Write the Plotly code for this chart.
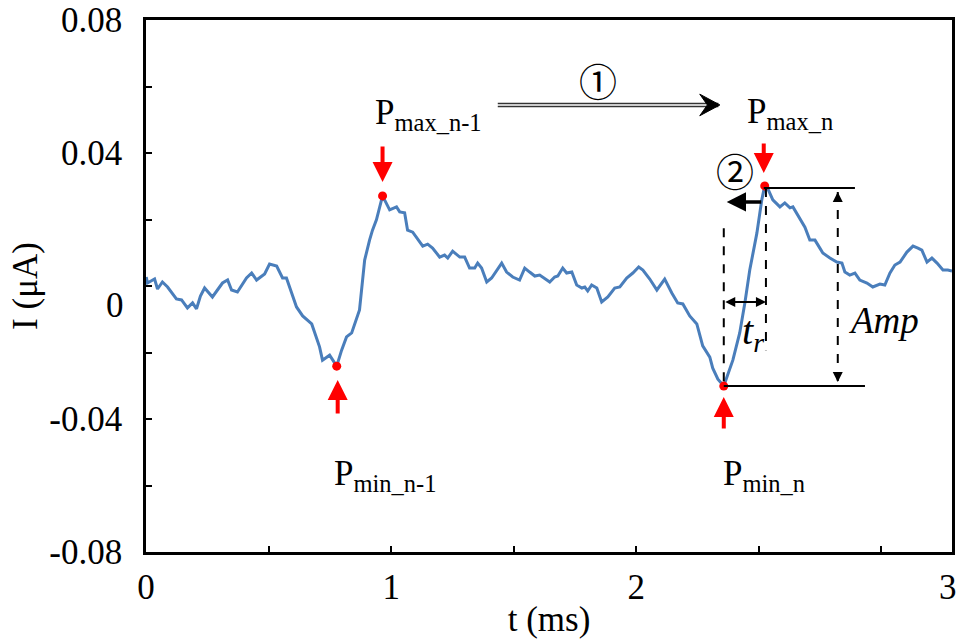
import plotly.graph_objects as go
import numpy as np

# time (ms)
t_ms = [0.001, 0.006, 0.035, 0.047, 0.067, 0.088, 0.124, 0.145, 0.169, 0.190, 0.206, 0.222, 0.239, 0.271,
        0.312, 0.333, 0.349, 0.373, 0.410, 0.431, 0.451, 0.484, 0.504, 0.533, 0.557, 0.573, 0.614, 0.639,
        0.676, 0.708, 0.720, 0.749, 0.778, 0.798, 0.818, 0.839, 0.871, 0.892, 0.912, 0.924, 0.940, 0.965,
        0.994, 1.022, 1.035, 1.055, 1.067, 1.088, 1.129, 1.149, 1.169, 1.198, 1.218, 1.231, 1.251, 1.280,
        1.300, 1.320, 1.341, 1.353, 1.369, 1.390, 1.410, 1.431, 1.451, 1.471, 1.496, 1.524, 1.545, 1.565,
        1.586, 1.606, 1.647, 1.667, 1.680, 1.700, 1.716, 1.737, 1.757, 1.778, 1.790, 1.802, 1.818, 1.839,
        1.859, 1.884, 1.912, 1.933, 1.961, 1.986, 2.010, 2.027, 2.055, 2.084, 2.116, 2.145, 2.169, 2.190,
        2.218, 2.247, 2.271, 2.300, 2.312, 2.333, 2.357, 2.394, 2.422, 2.443, 2.463, 2.492, 2.512, 2.524,
        2.537, 2.557, 2.586, 2.606, 2.627, 2.639, 2.667, 2.688, 2.708, 2.729, 2.749, 2.761, 2.790, 2.818,
        2.839, 2.851, 2.871, 2.892, 2.912, 2.941, 2.965, 2.994, 3.014, 3.035, 3.055, 3.076, 3.104, 3.129,
        3.149, 3.165, 3.186, 3.206, 3.227, 3.251, 3.271, 3.288]

# current (uA)
i_ua = [0.0027, 0.0009, 0.0021, -0.0009, 0.0012, -0.0003, -0.0039, -0.0042, -0.0066, -0.0051, -0.0069,
        -0.0030, -0.0006, -0.0033, 0.0009, 0.0018, -0.0012, -0.0018, 0.0024, 0.0039, 0.0018, 0.0036,
        0.0066, 0.0060, 0.0024, 0.0024, -0.0063, -0.0090, -0.0114, -0.0183, -0.0223, -0.0208, -0.0241,
        -0.0193, -0.0153, -0.0141, -0.0072, 0.0078, 0.0138, 0.0168, 0.0199, 0.0271,
        0.0229, 0.0238, 0.0223, 0.0220, 0.0168, 0.0162, 0.0120, 0.0126, 0.0114, 0.0087, 0.0093, 0.0084,
        0.0105, 0.0087, 0.0087, 0.0054, 0.0054, 0.0069, 0.0054, 0.0012, 0.0024, 0.0048, 0.0069, 0.0042,
        0.0027, 0.0018, 0.0054, 0.0042, 0.0030, 0.0033, 0.0012, 0.0027, 0.0030, 0.0054, 0.0039, 0.0042,
        0.0003, -0.0006, -0.0003, -0.0015, 0.0003, -0.0006, -0.0048, -0.0033, -0.0006, -0.0003, 0.0024,
        0.0039, 0.0057, 0.0048, 0.0021, -0.0012, 0.0021, -0.0021, -0.0051, -0.0054, -0.0090, -0.0114,
        -0.0180, -0.0214, -0.0247, -0.0280, -0.0301, -0.0223, -0.0141, -0.0051, 0.0048, 0.0159, 0.0259,
        0.0301, 0.0292, 0.0259, 0.0238, 0.0250, 0.0235, 0.0238, 0.0205, 0.0177, 0.0138, 0.0138, 0.0114,
        0.0099, 0.0084, 0.0072, 0.0069, 0.0042, 0.0033, 0.0039, 0.0018, 0.0009, -0.0003, 0.0006, 0.0003,
        0.0039, 0.0063, 0.0072, 0.0102, 0.0120, 0.0114, 0.0108, 0.0072, 0.0084, 0.0069, 0.0048, 0.0048,
        0.0045]

x_tickvals = [0, 0.5, 1, 1.5, 2, 2.5, 3]
x_ticktext = ["0", "", "1", "", "2", "", ""]
y_tickvals = [-0.08, -0.06, -0.04, -0.02, 0, 0.02, 0.04, 0.06, 0.08]
y_ticktext = ["-0.08", "", "-0.04", "", "", "", "0.04", "", "0.08"]

t = np.array(t_ms)
i = np.array(i_ua)
# extreme points (P_min / P_max of pulses n-1 and n)
m1 = t < 1.5
m2 = t >= 1.5
idx = [np.where(m1)[0][np.argmin(i[m1])], np.where(m1)[0][np.argmax(i[m1])],
       np.where(m2)[0][np.argmin(i[m2])], np.where(m2)[0][np.argmax(i[m2])]]

SERIF = "Liberation Serif"
fig = go.Figure()
fig.add_trace(go.Scatter(x=t, y=i, mode="lines", line=dict(color="#4A7EBB", width=3), showlegend=False))
fig.add_trace(go.Scatter(x=t[idx], y=i[idx], mode="markers",
                         marker=dict(color="#FF0000", size=9), showlegend=False))

ann = []
# red arrows
for (xx, yy, ay) in [(0.965, 0.0313, -37), (0.782, -0.0283, 35), (2.520, 0.0340, -31), (2.357, -0.0334, 33)]:
    ann.append(dict(x=xx, y=yy, ax=0, ay=ay, text="", showarrow=True, arrowhead=2, arrowsize=1,
                    arrowwidth=4, arrowcolor="#FF0000"))
# point labels
lab_font = dict(family=SERIF, size=35, color="black")
for (xx, yy, txt) in [(0.925, 0.0515, "P<sub>max_n-1</sub>"), (2.445, 0.0518, "P<sub>max_n</sub>"),
                      (0.757, -0.0570, "P<sub>min_n-1</sub>"), (2.345, -0.0570, "P<sub>min_n</sub>")]:
    ann.append(dict(x=xx, y=yy, text=txt, showarrow=False, xanchor="left", yanchor="middle", font=lab_font))
# circled numbers
for (xx, yy, txt) in [(1.843, 0.0620, "①"), (2.402, 0.0349, "②")]:
    ann.append(dict(x=xx, y=yy, text=txt, showarrow=False, xanchor="center", yanchor="middle",
                    font=dict(family="Noto Sans CJK SC", size=38, color="black")))
# Amp and t_r
ann.append(dict(x=3.010, y=-0.0105, text="<i>Amp</i>", showarrow=False, xanchor="center", yanchor="middle",
                font=dict(family=SERIF, size=37, color="black")))
ann.append(dict(x=2.425, y=-0.0140, text="<i>t<sub>r</sub></i>", showarrow=False, xanchor="left",
                yanchor="middle", font=dict(family=SERIF, size=40, color="black")))
# t_r double arrow
ann.append(dict(x=2.529, y=-0.0048, ax=2.357, ay=-0.0048, axref="x", ayref="y", text="", showarrow=True,
                arrowhead=2, arrowside="end+start", arrowsize=1, arrowwidth=2, arrowcolor="black"))
# Amp arrow heads
ann.append(dict(x=2.822, y=0.0283, ax=0, ay=10, text="", showarrow=True, arrowhead=2, arrowsize=1,
                arrowwidth=2, arrowcolor="black"))
ann.append(dict(x=2.822, y=-0.0289, ax=0, ay=-10, text="", showarrow=True, arrowhead=2, arrowsize=1,
                arrowwidth=2, arrowcolor="black"))
# arrow 2 (black, leftwards)
ann.append(dict(x=2.369, y=0.0253, ax=2.516, ay=0.0253, axref="x", ayref="y", text="", showarrow=True,
                arrowhead=2, arrowsize=1.1, arrowwidth=3.5, arrowcolor="black"))
# y tick label "0" (sits below its tick in the original)
ann.append(dict(x=0, y=0, xref="paper", yref="y", text="0", showarrow=False, xanchor="right",
                yanchor="middle", xshift=-20, yshift=-19, font=dict(family=SERIF, size=35, color="black")))
# x tick label "3" at the right edge of the frame
ann.append(dict(x=1, y=0, xref="paper", yref="paper", text="3", showarrow=False, xanchor="center",
                yanchor="middle", xshift=-4, yshift=-35, font=dict(family=SERIF, size=35, color="black")))

shapes = [
    dict(type="line", x0=2.520, x1=2.892, y0=0.0295, y1=0.0295, line=dict(color="black", width=2)),
    dict(type="line", x0=2.357, x1=2.933, y0=-0.0301, y1=-0.0301, line=dict(color="black", width=2)),
    dict(type="line", x0=2.357, x1=2.357, y0=0.0174, y1=-0.0301, line=dict(color="black", width=2, dash="dash")),
    dict(type="line", x0=2.529, x1=2.529, y0=0.0295, y1=-0.0193, line=dict(color="black", width=2, dash="dash")),
    dict(type="line", x0=2.822, x1=2.822, y0=0.0283, y1=-0.0289, line=dict(color="black", width=2, dash="dash")),
    dict(type="line", x0=1.435, x1=2.335, y0=0.0549, y1=0.0549, line=dict(color="#333333", width=1.5)),
    dict(type="line", x0=1.435, x1=2.335, y0=0.0540, y1=0.0540, line=dict(color="#333333", width=1.5)),
    dict(type="path", path="M 2.259 0.0577 L 2.341 0.05445 L 2.259 0.0512 L 2.290 0.05445 Z",
         fillcolor="black", line=dict(color="black", width=1)),
]

fig.update_layout(
    width=958, height=639,
    margin=dict(l=146, r=6, t=20, b=87, autoexpand=False),
    paper_bgcolor="white", plot_bgcolor="white",
    font=dict(family=SERIF, size=35, color="black"),
    annotations=ann, shapes=shapes,
    xaxis=dict(range=[0, 3.288], tickmode="array", tickvals=x_tickvals, ticktext=x_ticktext,
               ticks="inside", ticklen=6, tickwidth=2, tickcolor="black",
               showline=True, linecolor="black", linewidth=2.5, mirror=True,
               showgrid=False, zeroline=False, ticklabelstandoff=2, automargin=False,
               ticklabeloverflow="allow", tickfont=dict(family=SERIF, size=35),
               title=dict(text="t (ms)", font=dict(family=SERIF, size=35), standoff=4)),
    yaxis=dict(range=[-0.08, 0.08], tickmode="array", tickvals=y_tickvals, ticktext=y_ticktext,
               ticks="inside", ticklen=6, tickwidth=2, tickcolor="black",
               showline=True, linecolor="black", linewidth=2.5, mirror=True,
               showgrid=False, zeroline=False, ticklabelstandoff=14, automargin=False,
               ticklabeloverflow="allow", tickfont=dict(family=SERIF, size=35),
               title=dict(text="I (μA)", font=dict(family=SERIF, size=35), standoff=2)),
)

# remove the page's default body margin so the figure fills the window exactly
fig.write_html("out.html", config={"displayModeBar": False},
               post_script="document.body.style.margin='0';document.body.style.overflow='hidden';")
